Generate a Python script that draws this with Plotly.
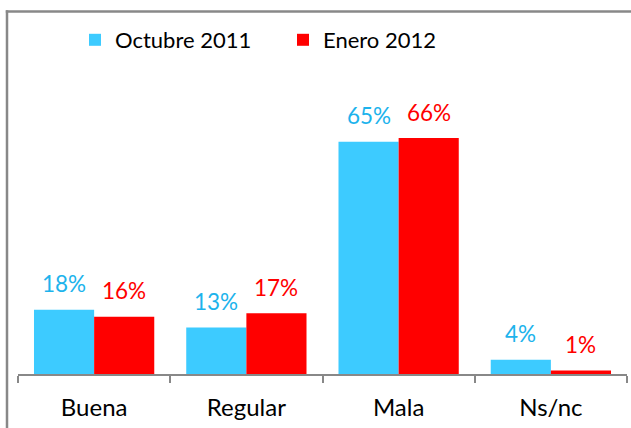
import plotly.graph_objects as go

categories = ["Buena", "Regular", "Mala", "Ns/nc"]
series_names = ["Octubre 2011", "Enero 2012"]
oct_2011 = [18, 13, 65, 4]
ene_2012 = [16, 17, 66, 1]

bar_colors = ["#3DCBFF", "#FF0000"]
label_colors = ["#1DB3EC", "#FF0000"]
FONT = "Lato, Carlito, Calibri, sans-serif"

W, H = 631, 428
ML, MR, MT, MB = 18, 4, 88, 54
pw, ph = W - ML - MR, H - MT - MB

fig = go.Figure()
for name, vals, col in zip(series_names, [oct_2011, ene_2012], bar_colors):
    fig.add_trace(go.Bar(x=categories, y=vals, name=name, marker=dict(color=col, line=dict(width=0))))

annotations = []
for i, (vals, col) in enumerate(zip([oct_2011, ene_2012], label_colors)):
    shift = -30 if i == 0 else 30
    for c, v in zip(categories, vals):
        annotations.append(dict(x=c, y=v, xref="x", yref="y", text=f"{v}%", showarrow=False,
                                xshift=shift, yshift=26, yanchor="middle",
                                font=dict(family=FONT, size=22.5, color=col)))

def px2x(px):
    return (px - ML) / pw

def py2y(py):
    return (H - MB - py) / ph

frame = dict(color="#888888", width=2.5)
fig.add_shape(type="line", xref="paper", yref="paper", layer="above",
              x0=px2x(5.8), x1=px2x(W + 10), y0=py2y(11.5), y1=py2y(11.5), line=frame)
fig.add_shape(type="line", xref="paper", yref="paper", layer="above",
              x0=px2x(7), x1=px2x(7), y0=py2y(10.3), y1=py2y(H + 10), line=frame)

fig.update_layout(
    width=W, height=H,
    margin=dict(l=ML, r=MR, t=MT, b=MB, autoexpand=False),
    paper_bgcolor="white", plot_bgcolor="white",
    barmode="group", bargap=0.21, bargroupgap=0,
    showlegend=True,
    legend=dict(orientation="h", x=px2x(75), xanchor="left", y=py2y(40), yanchor="middle",
                font=dict(family=FONT, size=22, color="#000000"),
                entrywidth=163, entrywidthmode="pixels", bgcolor="rgba(0,0,0,0)",
                itemclick=False),
    xaxis=dict(showline=True, linecolor="#888888", linewidth=1.5, ticks="outside",
               tickson="boundaries", ticklen=7, tickcolor="#888888", tickwidth=1.5,
               tickfont=dict(family=FONT, size=24, color="#000000"), ticklabelstandoff=11,
               showgrid=False, fixedrange=True),
    yaxis=dict(range=[0, 80], visible=False, showgrid=False, zeroline=False, fixedrange=True),
    annotations=annotations,
)

fig.write_html("out.html", config={"displayModeBar": False},
               post_script="document.body.style.margin='0';document.body.style.overflow='hidden';")
